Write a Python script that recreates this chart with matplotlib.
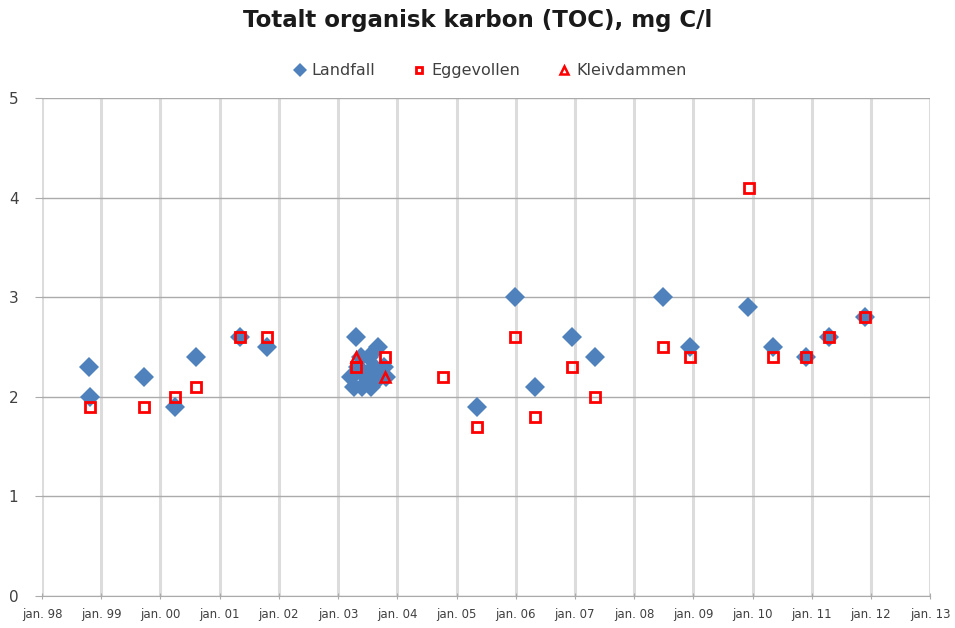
import pandas as pd
import matplotlib
matplotlib.use('Agg')
import matplotlib.pyplot as plt

# data
landfall_dates = ['1998-10-15', '1998-10-25', '1999-09-25', '2000-04-01', '2000-08-10',
                  '2001-05-05', '2001-10-20',
                  '2003-04-20', '2003-03-25', '2003-04-10', '2003-05-05', '2003-05-20',
                  '2003-06-01', '2003-06-20', '2003-07-10', '2003-07-25', '2003-08-10',
                  '2003-09-05', '2003-09-20', '2003-10-10', '2003-10-25',
                  '2005-05-05', '2005-12-28', '2006-05-01', '2006-12-15', '2007-05-05',
                  '2008-06-25', '2008-12-12', '2009-12-05', '2010-05-05', '2010-11-25',
                  '2011-04-20', '2011-11-28']
landfall_toc = [2.3, 2.0, 2.2, 1.9, 2.4,
                2.6, 2.5,
                2.6, 2.2, 2.1, 2.3, 2.4,
                2.1, 2.2, 2.4, 2.1, 2.3,
                2.5, 2.2, 2.3, 2.2,
                1.9, 3.0, 2.1, 2.6, 2.4,
                3.0, 2.5, 2.9, 2.5, 2.4,
                2.6, 2.8]

egge_dates = ['1998-10-25', '1999-09-25', '2000-04-01', '2000-08-10', '2001-05-05',
              '2001-10-20', '2003-04-20', '2003-10-20', '2004-10-12', '2005-05-05',
              '2005-12-28', '2006-05-01', '2006-12-15', '2007-05-05', '2008-06-25',
              '2008-12-12', '2009-12-10', '2010-05-05', '2010-11-25', '2011-04-20',
              '2011-11-28']
egge_toc = [1.9, 1.9, 2.0, 2.1, 2.6,
            2.6, 2.3, 2.4, 2.2, 1.7,
            2.6, 1.8, 2.3, 2.0, 2.5,
            2.4, 4.1, 2.4, 2.4, 2.6,
            2.8]

kleiv_dates = ['2003-04-20', '2003-10-20']
kleiv_toc = [2.4, 2.2]

year_ticks = pd.date_range('1998-01-01', '2013-01-01', freq='YS')

fig = plt.figure(figsize=(9.55, 6.28), dpi=100)
ax = fig.add_axes([0.044, 0.051, 0.930, 0.793])

ax.plot(pd.to_datetime(landfall_dates), landfall_toc, 'D', color='#4F81BD',
        markersize=10, markeredgewidth=0, label='Landfall', zorder=3)
ax.plot(pd.to_datetime(egge_dates), egge_toc, 's', markerfacecolor='none',
        markeredgecolor='#FF0000', markersize=6.5, markeredgewidth=2.0,
        label='Eggevollen', zorder=4)
ax.plot(pd.to_datetime(kleiv_dates), kleiv_toc, '^', markerfacecolor='none',
        markeredgecolor='#FF0000', markersize=7, markeredgewidth=1.8,
        label='Kleivdammen', zorder=5)

ax.set_xlim(year_ticks[0], year_ticks[-1])
ax.set_ylim(0, 5)
ax.set_xticks(year_ticks)
ax.set_xticklabels(['jan. %02d' % (d.year % 100) for d in year_ticks])
ax.set_yticks([0, 1, 2, 3, 4, 5])

ax.grid(axis='y', color='#ABABAB', linewidth=1.0)
ax.grid(axis='x', color='#DCDCDC', linewidth=2.2)
ax.set_axisbelow(True)

for s in ['top', 'right', 'left']:
    ax.spines[s].set_visible(False)
ax.spines['bottom'].set_color('#ABABAB')
ax.tick_params(axis='x', colors='#ABABAB', labelcolor='#404040', labelsize=8.5,
               length=5, direction='inout', pad=6)
ax.tick_params(axis='y', colors='#ABABAB', labelcolor='#404040', labelsize=11,
               length=5, pad=12)

fig.suptitle('Totalt organisk karbon (TOC), mg C/l', x=0.5, y=0.985,
             fontsize=16.5, fontweight='bold', color='#1A1A1A')
fig.legend(loc='center', bbox_to_anchor=(0.51, 0.887), ncol=3, frameon=False,
           fontsize=11.5, handletextpad=0.0, columnspacing=2.0, markerscale=0.75,
           handlelength=1.5, labelcolor='#404040')

fig.savefig('out.png', dpi=100)
